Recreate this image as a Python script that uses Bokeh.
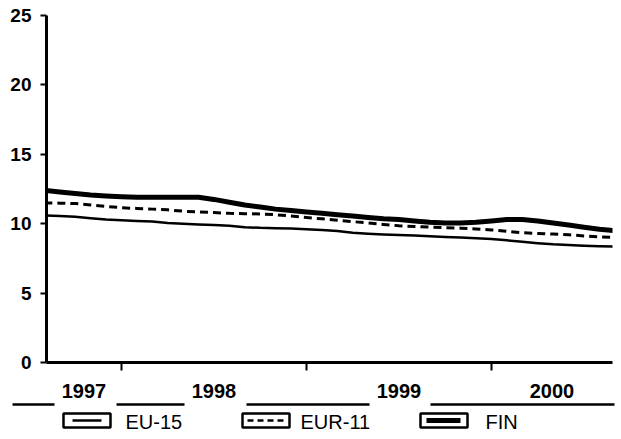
from bokeh.plotting import figure
from bokeh.layouts import column
from bokeh.models import Range1d, FixedTicker, LinearAxis
from bokeh.core.properties import value
from bokeh.embed import file_html
from bokeh.resources import INLINE

# ---- data (monthly, Aug 1997 .. Sep 2000) ----
months = ["1997-08", "1997-09", "1997-10", "1997-11", "1997-12",
          "1998-01", "1998-02", "1998-03", "1998-04", "1998-05", "1998-06",
          "1998-07", "1998-08", "1998-09", "1998-10", "1998-11", "1998-12",
          "1999-01", "1999-02", "1999-03", "1999-04", "1999-05", "1999-06",
          "1999-07", "1999-08", "1999-09", "1999-10", "1999-11", "1999-12",
          "2000-01", "2000-02", "2000-03", "2000-04", "2000-05", "2000-06",
          "2000-07", "2000-08", "2000-09"]
eu15 = [10.6, 10.55, 10.5, 10.4, 10.3, 10.25, 10.2, 10.15, 10.05, 10.0,
        9.95, 9.9, 9.85, 9.75, 9.7, 9.68, 9.65, 9.6, 9.55, 9.48,
        9.35, 9.28, 9.22, 9.18, 9.15, 9.1, 9.05, 9.0, 8.95, 8.9,
        8.8, 8.7, 8.6, 8.52, 8.47, 8.42, 8.38, 8.35]
eur11 = [11.5, 11.48, 11.45, 11.35, 11.25, 11.15, 11.1, 11.05, 11.0, 10.9,
         10.85, 10.8, 10.75, 10.72, 10.7, 10.65, 10.55, 10.45, 10.35, 10.25,
         10.15, 10.05, 9.95, 9.85, 9.8, 9.75, 9.72, 9.68, 9.62, 9.55,
         9.45, 9.35, 9.3, 9.25, 9.2, 9.12, 9.05, 9.0]
fin = [12.4, 12.28, 12.17, 12.07, 12.0, 11.95, 11.9, 11.9, 11.9, 11.9,
       11.9, 11.75, 11.55, 11.35, 11.2, 11.05, 10.95, 10.85, 10.75, 10.65,
       10.55, 10.45, 10.35, 10.3, 10.2, 10.1, 10.05, 10.05, 10.1, 10.2,
       10.3, 10.3, 10.2, 10.05, 9.9, 9.75, 9.6, 9.5]
year_labels = ["1997", "1998", "1999", "2000"]
year_bounds = [1998, 1999, 2000]
y_ticks = [0, 5, 10, 15, 20, 25]
legend_names = ["EU-15", "EUR-11", "FIN"]

x = [int(m[:4]) + (int(m[5:]) - 1) / 12.0 for m in months]

X0, X1 = 1997.595, 2000.654
year_centers = [(X0 + 1998) / 2, 1998.5, 1999.5, (2000 + X1) / 2]

FONT = "Liberation Sans"
W = 620
FL, FR = 46, 612          # frame left / right in page pixels
H1 = 378                  # height of the chart part


def px(v):
    return FL + (v - X0) * (FR - FL) / (X1 - X0)


p = figure(width=W, height=H1, output_backend="svg", toolbar_location=None,
           x_range=Range1d(X0, X1), y_range=Range1d(0, 25),
           x_axis_location=None, y_axis_location=None,
           min_border_left=FL, min_border_right=W - FR, min_border_top=15,
           min_border_bottom=H1 - 362)
p.frame_align = False
p.outline_line_color = None
p.xgrid.visible = False
p.ygrid.visible = False
p.background_fill_color = "white"

# y axis
yax = LinearAxis(ticker=FixedTicker(ticks=y_ticks))
yax.axis_line_width = 3
yax.axis_line_color = "black"
yax.major_tick_out = 6
yax.major_tick_in = 0
yax.major_tick_line_width = 2
yax.minor_tick_line_color = None
yax.major_label_standoff = 9
yax.major_label_text_font = FONT
yax.major_label_text_font_style = "bold"
yax.major_label_text_font_size = "19px"
yax.major_label_text_color = "black"
p.add_layout(yax, "left")

# x axis: year boundaries as ticks (year names are written underneath)
xax = LinearAxis(ticker=FixedTicker(ticks=[], minor_ticks=year_bounds))
xax.axis_line_width = 3
xax.axis_line_color = "black"
xax.major_tick_line_color = None
xax.minor_tick_out = 8
xax.minor_tick_in = 0
xax.minor_tick_line_width = 2
xax.minor_tick_line_color = "black"
xax.major_label_text_font_size = "0px"
xax.major_label_standoff = 0
p.add_layout(xax, "below")

p.line(x, eu15, line_color="black", line_width=2.5, line_join="round")
p.line(x, eur11, line_color="black", line_width=3, line_dash="8 5")
p.line(x, fin, line_color="black", line_width=5, line_join="round")

# ---- bottom band: year names, separators, legend (page-pixel coordinates) ----
H2 = 438 - H1
q = figure(width=W, height=H2, output_backend="svg", toolbar_location=None,
           x_range=Range1d(0, W), y_range=Range1d(438, H1),
           x_axis_location=None, y_axis_location=None,
           min_border_left=0, min_border_right=0, min_border_top=0,
           min_border_bottom=0)
q.frame_align = False
q.outline_line_color = None
q.xgrid.visible = False
q.ygrid.visible = False

q.text(x=[px(c) for c in year_centers], y=[390] * 4, text=year_labels,
       text_font=value(FONT), text_font_style="bold", text_font_size="20px",
       text_color="black", text_baseline="middle", text_align="center")

sep_x0 = [12, 116, 246, 430]
sep_x1 = [54, 184, 369, 614]
q.segment(x0=sep_x0, y0=[404] * 4, x1=sep_x1, y1=[404] * 4,
          line_color="black", line_width=2.5)

box_left = [63, 242, 420]
box_w = 47
q.rect(x=[b + box_w / 2 for b in box_left], y=[420] * 3, width=box_w, height=14,
       fill_color="white", line_color="black", line_width=2.5)
q.segment(x0=[72], y0=[420], x1=[101], y1=[420], line_color="black", line_width=2.5)
q.segment(x0=[247], y0=[420], x1=[284], y1=[420], line_color="black",
          line_width=2.5, line_dash="6 4")
q.segment(x0=[426], y0=[420], x1=[460], y1=[420], line_color="black", line_width=5)

q.text(x=[125, 300, 485], y=[421] * 3, text=legend_names,
       text_font=value(FONT), text_font_size="20px", text_color="black",
       text_baseline="middle", text_align="left")

layout = column(p, q, spacing=0)
open("out.html", "w").write(file_html(layout, INLINE))
